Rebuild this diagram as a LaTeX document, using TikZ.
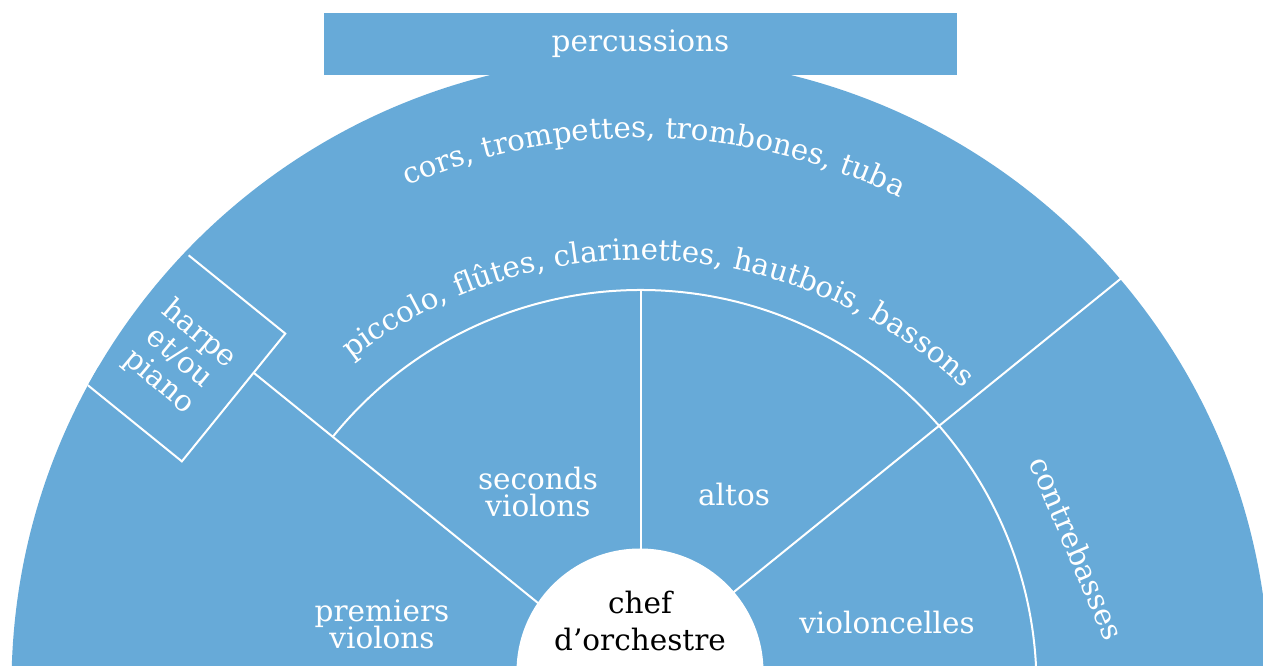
\documentclass[tikz,border=0pt]{standalone}
\usepackage{fontspec}
\setmainfont{DejaVu Serif}
\usetikzlibrary{decorations.text}
\definecolor{orchblue}{RGB}{103,170,216}
\lineskiplimit=-100pt
\begin{document}
\begin{tikzpicture}[x=1pt,y=1pt,
  lbl/.style={text=white, font=\fontsize{29.5}{27}\selectfont, align=center, inner sep=0pt},
  sep/.style={draw=white, line width=2pt},
  curved/.style={decorate, decoration={text along path, text align=center, text color=white, text={#1}}}
]
\useasboundingbox (0,0) rectangle (1263,666);
\clip (0,0) rectangle (1263,666);
\coordinate (C) at (640.5,-20);
\coordinate (T) at (640.5,-64);
% main disk
\fill[orchblue] (C) circle (629);
% percussion band
\node[fill=orchblue, minimum width=633, minimum height=62, lbl] (perc) at (640.5,622) {percussions};
% curved labels
\path[curved={|\fontsize{29.3}{30}\selectfont|cors, trompettes, trombones, tuba}]
  (T) ++(158.6:592) arc (158.6:18.6:592);
\path[curved={|\fontsize{29.3}{30}\selectfont|piccolo, flûtes, clarinettes, hautbois, bassons}]
  (T) ++(157.3:470) arc (157.3:17.3:470);
% separators
\draw[sep] (C) ++(141:396) arc (141:-5:396);
\draw[sep] (C) -- ++(141:540);
\coordinate (rA) at (1120,386.7);
\draw[sep] (rA) ++(39:6) -- ++(219:540);
\draw[sep] (640.5,376) -- (640.5,100);
% harp box
\begin{scope}
  \clip (C) circle (629);
  \node[fill=orchblue, rotate=-39, minimum width=124, minimum height=164, inner sep=0] (harp) at (185.25,307.65) {};
  \draw[sep, line join=miter] (harp.north west) -- (harp.north east) -- (harp.south east) -- (harp.south west);
\end{scope}
\node[lbl, rotate=-40, font=\fontsize{29.5}{31}\selectfont] (harpl) at (179,308) {harpe\\et/ou\\piano};
% section labels
\node[lbl] (second) at (538,173.5) {seconds\\violons};
\node[lbl] (altos) at (734,171) {altos};
\node[lbl] (premiers) at (382,42) {premiers\\violons};
\node[lbl] (cello) at (887,43) {violoncelles};
\node[lbl, rotate=-67] (bass) at (1077,118) {contrebasses};
% conductor
\node[circle, fill=white, minimum size=247, inner sep=0] (chef) at (640,-6) {};
\node[lbl, text=black, font=\fontsize{29.5}{37}\selectfont] (chefl) at (640,45) {chef\\d’orchestre};
\end{tikzpicture}
\end{document}
